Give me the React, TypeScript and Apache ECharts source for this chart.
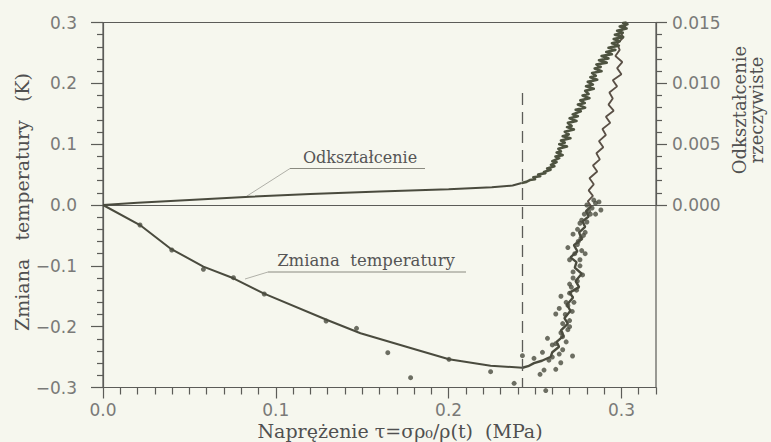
import React, { useEffect, useRef } from 'react';
import * as echarts from 'echarts';

// ---- Data ----
// x: stress tau (MPa); temperature change (K) on left axis; true strain on right axis
const xMajorTicks = [0, 0.1, 0.2, 0.3];
const xMinorTicks = [0.01, 0.02, 0.03, 0.04, 0.05, 0.06, 0.07, 0.08, 0.09, 0.11, 0.12, 0.13, 0.14, 0.15, 0.16, 0.17, 0.18, 0.19, 0.21, 0.22, 0.23, 0.24, 0.25, 0.26, 0.27, 0.28, 0.29, 0.31, 0.32];

// smooth fitted temperature curve
const tempFitTau = [0, 0.0214, 0.0388, 0.0581, 0.0755, 0.0929, 0.1297, 0.149, 0.1819, 0.2002, 0.2243, 0.2427];
const tempFitK = [0, -0.0329, -0.0712, -0.1014, -0.1205, -0.1452, -0.189, -0.2109, -0.2384, -0.2537, -0.2642, -0.2675];

// measured temperature trace after the minimum (below zero)
const tempLowTau = [0.2427, 0.246, 0.2494, 0.254, 0.2591, 0.26, 0.2639, 0.2625, 0.2665, 0.265, 0.269, 0.267, 0.2705, 0.2685, 0.272, 0.27, 0.2755, 0.2735, 0.277, 0.273, 0.274, 0.2705, 0.2745, 0.2725, 0.277, 0.2755, 0.279, 0.2775, 0.281, 0.2795, 0.2825];
const tempLowK = [-0.2675, -0.265, -0.26, -0.256, -0.2494, -0.242, -0.233, -0.225, -0.215, -0.206, -0.195, -0.186, -0.174, -0.164, -0.152, -0.144, -0.135, -0.125, -0.113, -0.103, -0.094, -0.086, -0.076, -0.066, -0.056, -0.045, -0.036, -0.027, -0.019, -0.01, -0.002];

// measured temperature trace above zero
const tempHighTau = [0.2825, 0.2805, 0.2835, 0.281, 0.284, 0.2815, 0.286, 0.2835, 0.2875, 0.2855, 0.2895, 0.287, 0.291, 0.289, 0.2935, 0.291, 0.2955, 0.2925, 0.295, 0.293, 0.2975, 0.295, 0.3, 0.2975, 0.3005, 0.2965, 0.299, 0.2975, 0.301, 0.2995, 0.3025, 0.302];
const tempHighK = [-0.002, 0.006, 0.015, 0.024, 0.034, 0.044, 0.055, 0.065, 0.075, 0.085, 0.095, 0.105, 0.115, 0.125, 0.135, 0.145, 0.155, 0.165, 0.175, 0.185, 0.195, 0.205, 0.215, 0.225, 0.235, 0.245, 0.255, 0.265, 0.275, 0.285, 0.295, 0.3];

// measured temperature points
const dotTau = [0.0214, 0.0398, 0.0581, 0.0755, 0.0933, 0.1291, 0.1467, 0.1648, 0.178, 0.2002, 0.2243, 0.2379, 0.2427, 0.2494, 0.2543, 0.2572, 0.262, 0.2717, 0.2649, 0.262, 0.2552, 0.2529, 0.2562, 0.2659, 0.2746, 0.2881, 0.26, 0.266, 0.268, 0.265, 0.27, 0.272, 0.276, 0.27, 0.269, 0.275, 0.278, 0.277, 0.282, 0.28, 0.285, 0.272, 0.279, 0.264, 0.27, 0.258,
  0.264, 0.26, 0.266, 0.262, 0.268, 0.265, 0.269, 0.27, 0.2675, 0.2715, 0.269, 0.2725, 0.27, 0.274, 0.271, 0.2745, 0.272, 0.2775, 0.276, 0.273, 0.277, 0.2745, 0.2765, 0.279, 0.276, 0.28, 0.2785, 0.281, 0.283, 0.284, 0.287, 0.285];
const dotK = [-0.0329, -0.074, -0.1057, -0.1195, -0.1463, -0.1907, -0.2027, -0.2428, -0.2839, -0.2537, -0.274, -0.2931, -0.2477, -0.252, -0.2422, -0.2192, -0.1792, -0.2482, -0.2593, -0.2701, -0.2713, -0.2783, -0.305, -0.2165, -0.04, -0.0082, -0.23, -0.195, -0.16, -0.15, -0.13, -0.12, -0.1, -0.09, -0.07, -0.06, -0.05, -0.025, -0.015, 0.0, 0.003, -0.048, -0.08, -0.17, -0.2, -0.255,
  -0.245, -0.25, -0.238, -0.228, -0.225, -0.21, -0.205, -0.19, -0.18, -0.175, -0.165, -0.16, -0.145, -0.14, -0.135, -0.125, -0.11, -0.115, -0.09, -0.08, -0.075, -0.065, -0.055, -0.045, -0.03, -0.028, -0.015, -0.01, -0.005, 0.008, 0.005, -0.015];

// true strain, smooth part
const strainSmoothTau = [0, 0.02, 0.05, 0.085, 0.12, 0.16, 0.2, 0.225, 0.237, 0.2423];
const strainSmooth = [0, 0.00019, 0.00042, 0.00068, 0.0009, 0.0011, 0.0013, 0.00145, 0.0016, 0.00181];

// true strain, noisy measured part
const strainNoisyTau = [0.2423, 0.245, 0.247, 0.25, 0.249, 0.253, 0.2518, 0.256, 0.2552, 0.259, 0.257, 0.2612, 0.2592, 0.2625, 0.26, 0.264, 0.2618, 0.266, 0.2625, 0.265, 0.2635, 0.2685, 0.264, 0.2672, 0.265, 0.2705, 0.266, 0.2695, 0.2672, 0.2725, 0.2685, 0.2712, 0.269, 0.274, 0.27, 0.2748, 0.2718, 0.2765, 0.2735, 0.279, 0.2748, 0.2788, 0.2762, 0.2815, 0.2775, 0.281, 0.279, 0.284, 0.2795, 0.2835, 0.2805, 0.286, 0.282, 0.2852, 0.283, 0.2885, 0.2845, 0.288, 0.2855, 0.2915, 0.287, 0.2925, 0.2885, 0.2945, 0.2912, 0.2965, 0.2925, 0.2985, 0.2945, 0.299, 0.2955, 0.301, 0.2962, 0.3008, 0.2975, 0.303, 0.299, 0.3035, 0.301, 0.303];
const strainNoisy = [0.00181, 0.0019, 0.00205, 0.00212, 0.00228, 0.00236, 0.0025, 0.00262, 0.00272, 0.0029, 0.003, 0.00318, 0.0033, 0.00352, 0.0036, 0.00385, 0.00398, 0.0041, 0.00432, 0.0044, 0.00462, 0.0048, 0.005, 0.00512, 0.0053, 0.00548, 0.00565, 0.0058, 0.00602, 0.0062, 0.0064, 0.0065, 0.00675, 0.0069, 0.00712, 0.0073, 0.00745, 0.0077, 0.00782, 0.008, 0.00825, 0.00838, 0.0086, 0.00878, 0.009, 0.00912, 0.00938, 0.00955, 0.00975, 0.0099, 0.01012, 0.0103, 0.0105, 0.01062, 0.01085, 0.011, 0.01122, 0.01135, 0.01155, 0.0117, 0.0119, 0.01205, 0.01225, 0.0124, 0.01258, 0.01275, 0.01292, 0.0131, 0.0133, 0.01345, 0.01365, 0.0138, 0.014, 0.01415, 0.01432, 0.0145, 0.01468, 0.01485, 0.01495, 0.015];

const dashedTau = 0.2425;
const dashedTopK = 0.184;

const BG = '#f6f7ee';
const INK = '#4a4b3e';
const BAND = '#4e5340';
const TRACE = '#5a5046';
const AXIS = '#5c5c58';
const TICKTEXT = '#7a7a78';
const SERIF = '"DejaVu Serif", "Liberation Serif", serif';
const SANS = '"DejaVu Sans", "Liberation Sans", sans-serif';

const zip = (a: number[], b: number[]) => a.map((v, i) => [v, b[i]]);
const minusFmt = (s: string) => s.replace('-', '\u2212');

export default function App() {
  const ref = useRef<HTMLDivElement>(null);
  useEffect(() => {
    document.body.style.margin = '0';
    const chart = echarts.init(ref.current!, undefined, { renderer: 'svg' });
    const axisLineStyle = { color: AXIS, width: 1.2 };
    const tickLabel = { fontFamily: SANS, fontSize: 17, color: TICKTEXT };
    const lineBase = { type: 'line', showSymbol: false, symbol: 'none', silent: true, clip: false };
    chart.setOption({
      animation: false,
      backgroundColor: BG,
      grid: [
        { left: 103, right: 115, top: 22.5, bottom: 54.5, show: true, borderColor: AXIS, borderWidth: 1.2, backgroundColor: 'transparent', containLabel: false },
        { left: 103, right: 115, top: 22.5, height: 182.5, containLabel: false },
      ],
      xAxis: [
        {
          gridIndex: 0, type: 'value', min: 0, max: 0.32, position: 'bottom',
          axisLine: { show: true, onZero: false, lineStyle: axisLineStyle },
          axisTick: { show: true, customValues: xMajorTicks, length: 11, lineStyle: axisLineStyle },
          axisLabel: { ...tickLabel, customValues: xMajorTicks, margin: 14, formatter: (v: number) => v.toFixed(1) },
          splitLine: { show: false }, minorTick: { show: false },
        },
        {
          gridIndex: 1, type: 'value', min: 0, max: 0.32, position: 'bottom',
          axisLine: { show: true, onZero: false, lineStyle: axisLineStyle },
          axisTick: { show: false }, axisLabel: { show: false }, splitLine: { show: false },
        },
        {
          gridIndex: 0, type: 'value', min: 0, max: 0.32, position: 'bottom', offset: 0,
          axisLine: { show: false, onZero: false },
          axisTick: { show: true, customValues: xMinorTicks, length: 7, lineStyle: axisLineStyle },
          axisLabel: { show: false }, splitLine: { show: false },
        },
      ],
      yAxis: [
        {
          gridIndex: 0, type: 'value', min: -0.3, max: 0.3, interval: 0.1, position: 'left',
          axisLine: { show: true, onZero: false, lineStyle: axisLineStyle },
          axisTick: { show: true, length: 12, lineStyle: axisLineStyle },
          minorTick: { show: true, splitNumber: 5, length: 6, lineStyle: axisLineStyle },
          axisLabel: { ...tickLabel, margin: 26, formatter: (v: number) => minusFmt(v.toFixed(1)) },
          splitLine: { show: false }, minorSplitLine: { show: false },
        },
        {
          gridIndex: 1, type: 'value', min: 0, max: 0.015, interval: 0.005, position: 'right',
          axisLine: { show: true, onZero: false, lineStyle: axisLineStyle },
          axisTick: { show: true, length: 11, lineStyle: axisLineStyle },
          minorTick: { show: true, splitNumber: 5, length: 6, lineStyle: axisLineStyle },
          axisLabel: { ...tickLabel, margin: 16, formatter: (v: number) => v.toFixed(3) },
          splitLine: { show: false }, minorSplitLine: { show: false },
        },
      ],
      series: [
        {
          ...lineBase, name: 'Zmiana temperatury', xAxisIndex: 0, yAxisIndex: 0,
          data: zip(tempFitTau, tempFitK), lineStyle: { color: INK, width: 2 },
          markLine: {
            silent: true, symbol: 'none', label: { show: false },
            lineStyle: { color: AXIS, width: 1.3, type: [12, 7] },
            data: [[{ coord: [dashedTau, dashedTopK] }, { coord: [dashedTau, -0.3] }]],
          },
        },
        { ...lineBase, name: 'Temperatura (pomiar)', xAxisIndex: 0, yAxisIndex: 0, data: zip(tempLowTau, tempLowK), lineStyle: { color: INK, width: 2.4 } },
        { ...lineBase, name: 'Temperatura (pomiar, >0)', xAxisIndex: 0, yAxisIndex: 0, data: zip(tempHighTau, tempHighK), lineStyle: { color: TRACE, width: 1.8 } },
        {
          name: 'Pomiar', type: 'scatter', xAxisIndex: 0, yAxisIndex: 0, clip: false,
          data: zip(dotTau, dotK), symbol: 'circle', symbolSize: 5,
          itemStyle: { color: INK }, silent: true,
        },
        { ...lineBase, name: 'Odkształcenie', xAxisIndex: 1, yAxisIndex: 1, data: zip(strainSmoothTau, strainSmooth), lineStyle: { color: INK, width: 2 } },
        { ...lineBase, name: 'Odkształcenie (pomiar)', xAxisIndex: 1, yAxisIndex: 1, data: zip(strainNoisyTau, strainNoisy), lineStyle: { color: BAND, width: 2.6, join: 'round' } },
      ],
      graphic: [
        { type: 'text', x: 22, y: 202, rotation: Math.PI / 2, style: { text: 'Zmiana   temperatury   (K)', font: `19px ${SERIF}`, fill: '#505050', align: 'center', verticalAlign: 'middle' } },
        { type: 'text', x: 400, y: 431, style: { text: 'Naprężenie τ=σρ₀/ρ(t)  (MPa)', font: `19px ${SERIF}`, fill: '#505050', align: 'center', verticalAlign: 'middle' } },
        { type: 'text', x: 739, y: 110, rotation: Math.PI / 2, style: { text: 'Odkształcenie', font: `18px ${SERIF}`, fill: '#505050', align: 'center', verticalAlign: 'middle' } },
        { type: 'text', x: 756, y: 110, rotation: Math.PI / 2, style: { text: 'rzeczywiste', font: `18px ${SERIF}`, fill: '#505050', align: 'center', verticalAlign: 'middle' } },
        { type: 'text', x: 360, y: 157, style: { text: 'Odkształcenie', font: `16px ${SERIF}`, fill: '#555', align: 'center', verticalAlign: 'middle' } },
        { type: 'line', shape: { x1: 290, y1: 168.5, x2: 425, y2: 168.5 }, style: { stroke: '#8a8a80', lineWidth: 1 } },
        { type: 'line', shape: { x1: 290, y1: 168.5, x2: 247, y2: 196 }, style: { stroke: '#b0b0a8', lineWidth: 1 } },
        { type: 'text', x: 366, y: 260, style: { text: 'Zmiana  temperatury', font: `16.5px ${SERIF}`, fill: '#555', align: 'center', verticalAlign: 'middle' } },
        { type: 'line', shape: { x1: 268, y1: 272, x2: 466, y2: 272 }, style: { stroke: '#8a8a80', lineWidth: 1 } },
        { type: 'line', shape: { x1: 268, y1: 272, x2: 245, y2: 279 }, style: { stroke: '#b0b0a8', lineWidth: 1 } },
      ],
    });
    return () => chart.dispose();
  }, []);
  return <div ref={ref} style={{ width: 771, height: 442, background: BG }} />;
}
